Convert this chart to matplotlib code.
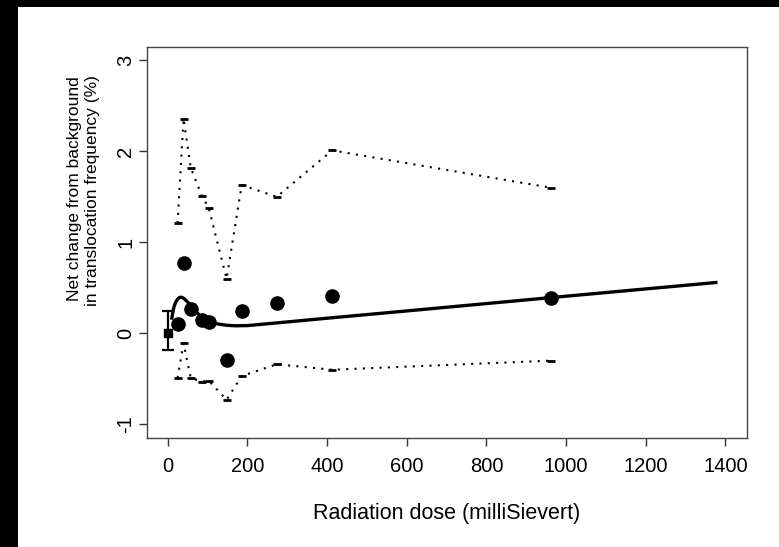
import matplotlib
matplotlib.use("Agg")
import matplotlib.pyplot as plt
from matplotlib.patches import Rectangle

plt.rcParams['font.family'] = ['Liberation Sans', 'DejaVu Sans']

# ---- data ----
dose = [25, 40, 58, 86, 103, 148, 186, 274, 413, 962]
change = [0.10, 0.77, 0.27, 0.15, 0.13, -0.29, 0.24, 0.33, 0.41, 0.39]
upper_ci = [1.21, 2.36, 1.82, 1.51, 1.38, 0.60, 1.63, 1.50, 2.01, 1.60]
lower_ci = [-0.49, -0.11, -0.49, -0.53, -0.52, -0.73, -0.47, -0.34, -0.40, -0.30]

ref_dose = [0]
ref_change = [0.0]
ref_err_low = [-0.18]
ref_err_high = [0.245]

fit_dose = [10, 13, 16, 20, 25, 30, 35, 42, 50, 58, 70, 85, 100, 115, 130, 150, 170,
            200, 265, 400, 600, 800, 1000, 1200, 1380]
fit_change = [0.15, 0.23, 0.29, 0.34, 0.375, 0.395, 0.397, 0.38, 0.345, 0.30, 0.24,
              0.18, 0.14, 0.115, 0.10, 0.088, 0.083, 0.085, 0.111, 0.166, 0.246,
              0.327, 0.408, 0.488, 0.56]

x_ticks = [0, 200, 400, 600, 800, 1000, 1200, 1400]
y_ticks = [-1, 0, 1, 2, 3]

W, H = 779, 547
fig = plt.figure(figsize=(W / 100, H / 100), dpi=100)
fig.patch.set_facecolor('white')

# black strips at top and left edges of the reference image
fig.patches.append(Rectangle((0, 0), 18 / W, 1, transform=fig.transFigure,
                             facecolor='black', edgecolor='none', zorder=-1))
fig.patches.append(Rectangle((0, 1 - 7 / H), 1, 7 / H, transform=fig.transFigure,
                             facecolor='black', edgecolor='none', zorder=-1))

ax = fig.add_axes([147 / W, (H - 438) / H, 600 / W, 391 / H])
ax.set_xlim(-51.7, 1454)
ax.set_ylim(-1.15, 3.146)

# confidence limits (dotted, with small caps)
ax.plot(dose, upper_ci, color='black', lw=1.5, linestyle=(0, (1, 3)))
ax.plot(dose, lower_ci, color='black', lw=1.5, linestyle=(0, (1, 3)))
ax.plot(dose, upper_ci, linestyle='none', marker='_', ms=6, mew=2, color='black')
ax.plot(dose, lower_ci, linestyle='none', marker='_', ms=6, mew=2, color='black')

# fitted curve
ax.plot(fit_dose, fit_change, color='black', lw=2.4, solid_capstyle='butt')

# observed points
ax.plot(dose, change, linestyle='none', marker='o', ms=9.5, color='black')

# reference (zero dose) point with error bar
ax.errorbar(ref_dose, ref_change,
            yerr=[[ref_change[0] - ref_err_low[0]], [ref_err_high[0] - ref_change[0]]],
            fmt='s', ms=6, color='black', ecolor='black', elinewidth=1.6,
            capsize=4, capthick=1.6)

ax.set_xticks(x_ticks)
ax.set_yticks(y_ticks)
ax.set_xticklabels([str(v) for v in x_ticks], fontsize=14.5)
ax.set_yticklabels([str(v) for v in y_ticks], fontsize=14.5, rotation=90, va='center')
ax.tick_params(direction='out', length=5.5, width=1, color='#333333', pad=8)
ax.tick_params(axis='y', pad=3)
for s in ax.spines.values():
    s.set_linewidth(1)
    s.set_color('#444444')

fig.text(447 / W, 1 - 514 / H, 'Radiation dose (milliSievert)', ha='center',
         va='center', fontsize=15.5)
fig.text(75 / W, 1 - 189 / H, 'Net change from background', ha='center',
         va='center', rotation=90, fontsize=12.5)
fig.text(92 / W, 1 - 191 / H, 'in translocation frequency (%)', ha='center',
         va='center', rotation=90, fontsize=12.5)

fig.savefig('out.png', dpi=100)
